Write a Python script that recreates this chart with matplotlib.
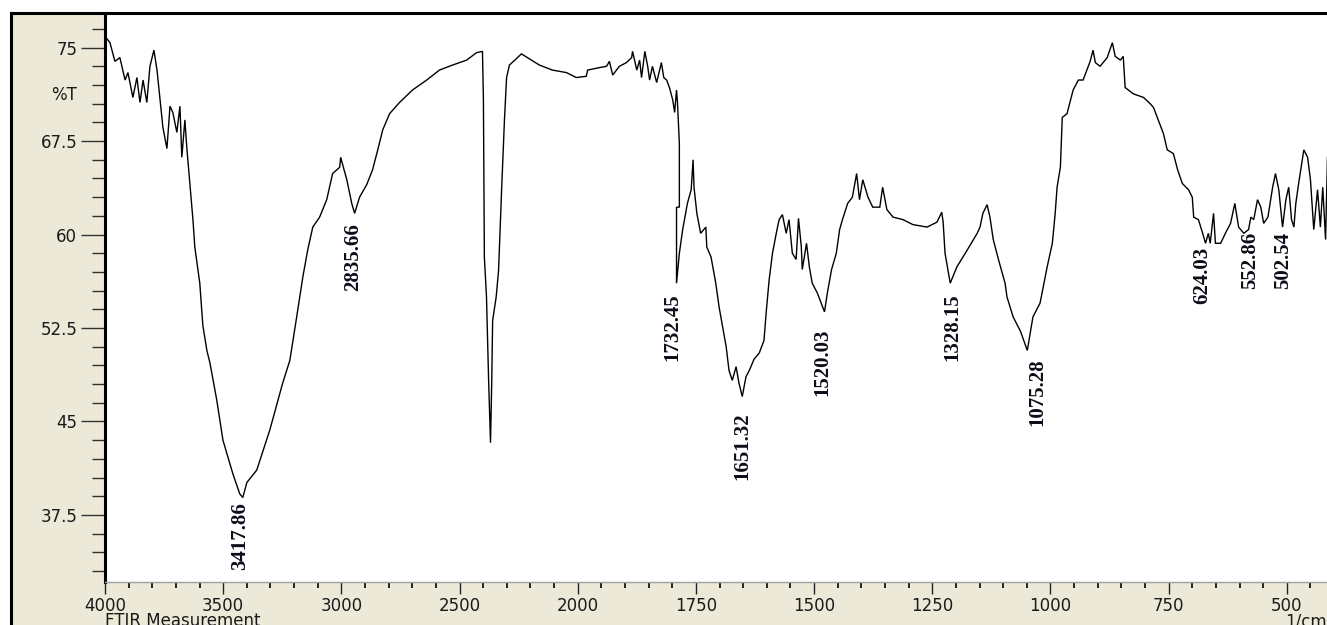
import numpy as np
import matplotlib
matplotlib.use("Agg")
import matplotlib.pyplot as plt
from matplotlib.patches import Rectangle
from matplotlib.lines import Line2D
from matplotlib.ticker import FixedLocator

# ---------------- data ----------------
wavenumber = [
    4000, 3979, 3958, 3937, 3915, 3903, 3882, 3865, 3852, 3839, 3823, 3810,
    3793, 3780, 3768, 3755, 3738, 3725, 3713, 3696, 3683, 3675, 3662, 3654,
    3641, 3628, 3620, 3599, 3586, 3569, 3556, 3527, 3501, 3459, 3430, 3417,
    3400, 3358, 3303, 3248, 3218, 3189, 3163, 3142, 3121, 3092, 3062, 3037,
    3007, 3003, 2977, 2956, 2944, 2923, 2893, 2868, 2846, 2825, 2796, 2754,
    2699, 2639, 2585, 2530, 2470, 2428, 2403, 2399, 2395, 2386, 2377, 2369,
    2364, 2360, 2345, 2335, 2322, 2310, 2301, 2289, 2238, 2162, 2107, 2048,
    2006,
    1982, 1979, 1954, 1939, 1933, 1926, 1912, 1897, 1886, 1884, 1875, 1869,
    1865, 1858, 1852, 1848, 1842, 1833, 1823, 1818, 1812, 1806, 1799, 1795,
    1791, 1789, 1785, 1785, 1791, 1791, 1785, 1778, 1768, 1760, 1756, 1754,
    1748, 1740, 1729, 1727, 1718, 1708, 1701, 1695, 1686, 1680, 1673, 1665,
    1659, 1652, 1644, 1637, 1627, 1616, 1606, 1601, 1595, 1588, 1580, 1574,
    1567, 1559, 1553, 1546, 1538, 1533, 1527, 1525, 1516, 1510, 1504, 1493,
    1478, 1472, 1463, 1453, 1446, 1440, 1429, 1419, 1410, 1404, 1397, 1386,
    1376, 1361, 1355, 1346, 1333, 1312, 1291, 1261, 1240, 1230, 1227, 1223,
    1212, 1198, 1177, 1155, 1149, 1143, 1134, 1128, 1121, 1110, 1096, 1092,
    1079, 1063, 1049, 1037, 1022, 1007, 996, 990, 986, 979, 975, 965,
    952, 941, 931, 916, 910, 905, 895, 880, 869, 863, 852, 846,
    842, 825, 803, 789, 782, 774, 761, 753, 740, 731, 721, 708,
    700, 697, 687, 678, 672, 666, 662, 655, 651, 640, 630, 619,
    610, 602, 591, 581, 576, 570, 562, 555, 549, 540, 530, 524,
    517, 509, 502, 496, 490, 485, 481, 475, 464, 456, 450, 443,
    435, 429, 424, 418, 414,
]
transmittance = [
    75.9, 75.4, 73.9, 74.2, 72.4, 73.0, 71.0, 72.6, 70.6, 72.4, 70.6, 73.5,
    74.8, 73.2, 71.0, 68.6, 66.9, 70.3, 69.8, 68.2, 70.3, 66.2, 69.2, 67.0,
    64.1, 61.2, 59.0, 56.1, 52.7, 50.7, 49.7, 46.7, 43.5, 40.8, 39.2, 38.9,
    40.1, 41.1, 44.3, 48.1, 49.9, 53.4, 56.6, 58.8, 60.6, 61.4, 62.8, 64.9,
    65.4, 66.2, 64.4, 62.5, 61.7, 63.0, 64.0, 65.2, 66.8, 68.4, 69.7, 70.6,
    71.6, 72.4, 73.2, 73.6, 74.0, 74.6, 74.7, 70.8, 58.2, 55.0, 48.3, 43.3,
    48.0, 53.1, 55.0, 57.1, 63.6, 69.2, 72.6, 73.6, 74.5, 73.6, 73.2, 73.0,
    72.6,
    72.7, 73.2, 73.4, 73.5, 73.9, 72.8, 73.5, 73.8, 74.2, 74.7, 73.2, 74.0,
    72.6, 74.7, 73.5, 72.4, 73.5, 72.2, 73.8, 72.6, 72.4, 71.8, 70.8, 69.8,
    71.6, 70.6, 67.3, 62.2, 62.2, 56.1, 58.5, 60.4, 62.5, 63.6, 66.0, 63.8,
    61.7, 60.1, 60.6, 59.0, 58.2, 56.1, 54.2, 52.9, 51.0, 49.1, 48.3, 49.4,
    48.1, 47.0, 48.6, 49.1, 50.0, 50.5, 51.5, 53.9, 56.4, 58.5, 60.1, 61.2,
    61.6, 60.1, 61.2, 58.5, 58.0, 61.3, 59.0, 57.2, 59.3, 57.4, 56.1, 55.3,
    53.8, 55.3, 57.2, 58.5, 60.4, 61.2, 62.5, 63.0, 64.9, 62.8, 64.4, 63.0,
    62.2, 62.2, 63.8, 62.0, 61.4, 61.2, 60.8, 60.6, 61.0, 61.8, 61.0, 58.5,
    56.1, 57.4, 58.7, 60.1, 60.6, 61.7, 62.4, 61.4, 59.6, 58.0, 56.1, 55.0,
    53.4, 52.2, 50.7, 53.4, 54.5, 57.4, 59.3, 61.7, 63.8, 65.4, 69.4, 69.7,
    71.6, 72.4, 72.4, 73.9, 74.8, 73.8, 73.5, 74.2, 75.4, 74.3, 74.0, 74.3,
    71.8, 71.3, 71.0, 70.5, 70.2, 69.4, 68.1, 66.8, 66.5, 65.2, 64.1, 63.6,
    63.0, 61.4, 61.2, 60.1, 59.3, 60.1, 59.3, 61.7, 59.3, 59.3, 60.1, 60.9,
    62.5, 60.6, 60.1, 60.4, 61.4, 61.2, 62.8, 62.2, 60.9, 61.4, 63.8, 64.9,
    63.6, 60.6, 62.8, 63.8, 61.2, 60.6, 62.5, 64.1, 66.8, 66.2, 64.4, 60.4,
    63.6, 60.6, 63.8, 59.6, 66.2,
]

peak_labels = ["3417.86", "2835.66", "1732.45", "1651.32", "1520.03",
               "1328.15", "1075.28", "624.03", "552.86", "502.54"]
peak_label_x = [3430, 2952, 1799, 1651, 1482, 1208, 1028, 679, 577, 507]
peak_label_top = [38.5, 60.9, 55.3, 45.7, 52.5, 55.3, 50.1, 59.0, 60.2, 60.2]

x_major_ticks = [4000, 3500, 3000, 2500, 2000, 1750, 1500, 1250, 1000, 750, 500]
x_tick_labels = ["4000", "3500", "3000", "2500", "2000", "1750", "1500",
                 "1250", "1000", "750", "500"]
y_major_ticks = [37.5, 45, 52.5, 60, 67.5, 75]
y_tick_labels = ["37.5", "45", "52.5", "60", "67.5", "75"]

# ---------------- figure ----------------
W, H = 1327, 625
fig = plt.figure(figsize=(W / 100, H / 100), dpi=100, facecolor="white")

beige = "#ece9d8"
panel = Rectangle((11 / W, -0.05), 1.2, (H - 13) / H + 0.05,
                  transform=fig.transFigure, facecolor=beige,
                  edgecolor="none", zorder=-1)
fig.add_artist(panel)

ax = fig.add_axes([105 / W, (H - 582) / H, (W - 105) / W, (582 - 13) / H])
ax.set_facecolor("white")


def fwd(x):
    x = np.asarray(x, dtype=float)
    return np.where(x >= 2000, 2000 + (x - 2000) / 2.0, x)


def inv(y):
    y = np.asarray(y, dtype=float)
    return np.where(y >= 2000, 2000 + (y - 2000) * 2.0, y)


ax.set_xscale("function", functions=(fwd, inv))
ax.set_xlim(4000, 415)
ax.set_ylim(32.12, 77.78)

ax.plot(wavenumber, transmittance, color="black", lw=1.0, solid_joinstyle="miter")

# spines
for s in ("top", "right"):
    ax.spines[s].set_visible(False)
ax.spines["left"].set_color("black")
ax.spines["left"].set_linewidth(2.2)
ax.spines["bottom"].set_color("#a0a0a0")
ax.spines["bottom"].set_linewidth(1.0)

# ticks
ax.xaxis.set_major_locator(FixedLocator(x_major_ticks))
ax.set_xticklabels(x_tick_labels)
x_minor = list(range(3900, 2000, -100)) + list(range(1950, 400, -50))
ax.xaxis.set_minor_locator(FixedLocator(x_minor))
ax.yaxis.set_major_locator(FixedLocator(y_major_ticks))
ax.set_yticklabels(y_tick_labels)
ax.yaxis.set_minor_locator(FixedLocator(list(np.arange(33, 77, 1.5))))

tick_font = "DejaVu Sans"
ax.tick_params(axis="x", which="major", direction="out", length=8.5, width=1.0,
               color="#222222", pad=2, labelsize=12, labelcolor="#1a1a1a")
ax.tick_params(axis="x", which="minor", direction="out", length=4, width=1.4,
               color="#222222")
ax.tick_params(axis="y", which="major", direction="out", length=17, width=1.0,
               color="#333333", pad=3, labelsize=12, labelcolor="#1a1a1a")
ax.tick_params(axis="y", which="minor", direction="out", length=9.5, width=1.0,
               color="#333333")
for lab in ax.get_xticklabels() + ax.get_yticklabels():
    lab.set_family(tick_font)

ax.annotate("%T", xy=(0, 71.2), xycoords=("axes fraction", "data"),
            xytext=(-28, 0), textcoords="offset pixels", ha="right",
            va="center", fontsize=12, color="#1a1a1a", family=tick_font,
            annotation_clip=False)

# peak labels
for s, x, y in zip(peak_labels, peak_label_x, peak_label_top):
    ax.text(x, y, s, rotation=90, ha="center", va="top", fontsize=15,
            fontweight="bold", family="Liberation Serif", color="#0d0d1a")

# bottom captions (cut by the lower edge, as in the original screenshot)
fig.text(105 / W, (H - 612) / H, "FTIR Measurement", ha="left", va="top",
         fontsize=12, color="#1a1a1a", family=tick_font)
fig.text(1285 / W, (H - 613) / H, "1/cm", ha="left", va="top",
         fontsize=12, color="#1a1a1a", family=tick_font)

# outer black frame (top and left)
fig.add_artist(Line2D([11 / W, 11 / W], [-0.05, (H - 13) / H],
                      transform=fig.transFigure, color="black", lw=2.2, zorder=5))
fig.add_artist(Line2D([11 / W, 1.05], [(H - 13) / H, (H - 13) / H],
                      transform=fig.transFigure, color="black", lw=2.2, zorder=5))

fig.savefig("out.png", dpi=100, facecolor="white")
